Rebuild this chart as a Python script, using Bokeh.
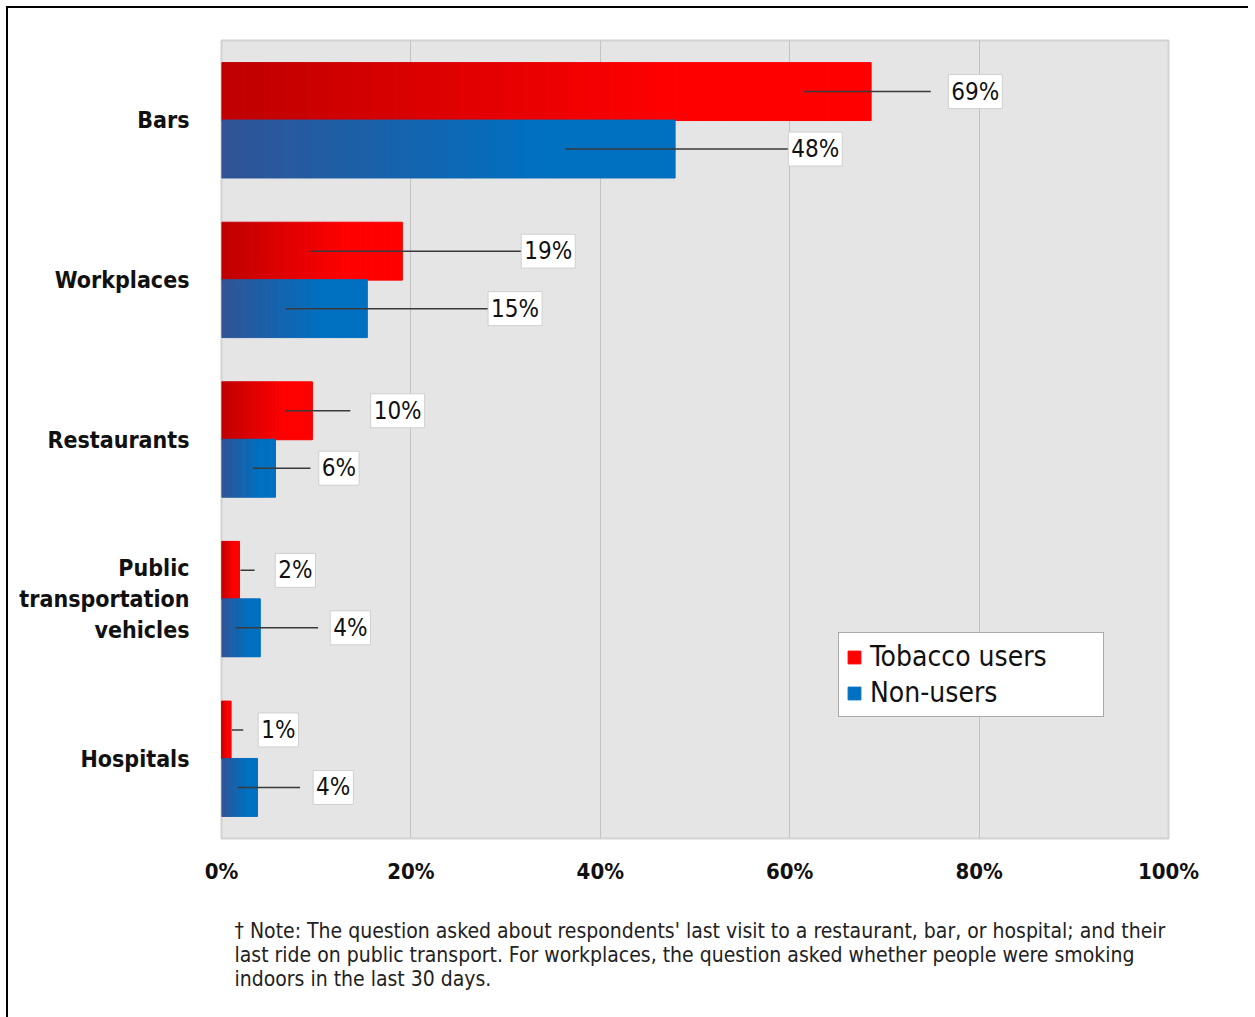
from bokeh.plotting import figure
from bokeh.models import Range1d, FixedTicker, PrintfTickFormatter, Label, Legend, LegendItem, Title
from bokeh.embed import file_html
from bokeh.resources import INLINE

# ---------------- data ----------------
categories = ["Bars", "Workplaces", "Restaurants", "Public\ntransportation\nvehicles", "Hospitals"]
tobacco_users = [68.6, 19.1, 9.6, 1.9, 1.0]
non_users = [47.9, 15.4, 5.7, 4.1, 3.8]
x_ticks = [0, 20, 40, 60, 80, 100]
series_names = ["Tobacco users", "Non-users"]
note_text = ("\u2020 Note: The question asked about respondents' last visit to a restaurant, bar, or hospital; and their\n"
             "last ride on public transport. For workplaces, the question asked whether people were smoking\n"
             "indoors in the last 30 days.")

# label layout (leader line start/end and label centre, in % units)
tob_line_start = [61.5, 9.4, 6.7, 2.0, 1.1]
tob_line_end = [74.9, 31.8, 13.6, 3.5, 2.3]
tob_label_x = [79.6, 34.5, 18.6, 7.8, 6.0]
non_line_start = [36.3, 6.8, 3.3, 1.5, 1.7]
non_line_end = [60.1, 28.4, 9.4, 10.2, 8.3]
non_label_x = [62.7, 31.0, 12.4, 13.6, 11.8]

FONT = "DejaVu Sans Condensed"
n_cat = len(categories)
centers = [n_cat - 0.5 - i for i in range(n_cat)]
OFF = 0.18
BAR_H = 0.363

p = figure(frame_width=947, frame_height=798,
           x_range=Range1d(0, 100), y_range=Range1d(0, n_cat),
           output_backend="svg", toolbar_location=None,
           min_border_left=213, min_border_right=80, min_border_top=32, min_border_bottom=176)
p.styles = {"margin-left": "6px", "margin-top": "6px",
            "border-left": "2px solid black", "border-top": "2px solid black"}
p.background_fill_color = "#e6e5e6"
p.border_fill_color = "white"
p.outline_line_color = "#d2d2d2"
p.outline_line_width = 2

p.xgrid.ticker = FixedTicker(ticks=x_ticks)
p.xgrid.grid_line_color = "#c2c2c2"
p.xgrid.grid_line_width = 1
p.ygrid.grid_line_color = None

p.xaxis.ticker = FixedTicker(ticks=x_ticks)
p.xaxis.formatter = PrintfTickFormatter(format="%d%%")
p.yaxis.ticker = FixedTicker(ticks=centers)
p.yaxis.major_label_overrides = {c: lab for c, lab in zip(centers, categories)}
for ax in (p.xaxis[0], p.yaxis[0]):
    ax.axis_line_color = None
    ax.major_tick_line_color = None
    ax.minor_tick_line_color = None
    ax.major_label_text_font = FONT
    ax.major_label_text_font_style = "bold"
    ax.major_label_text_color = "#111111"
p.xaxis.major_label_text_font_size = "22px"
p.xaxis.major_label_standoff = 14
p.yaxis.major_label_text_font_size = "23px"
p.yaxis.major_label_standoff = 26


def blend(c0, c1, t):
    return "#%02x%02x%02x" % tuple(int(round(a + (b - a) * t)) for a, b in zip(c0, c1))


N = 30


def gradient_bars(vals, offset, c0, c1):
    left, right, ys, cols = [], [], [], []
    for v, c in zip(vals, centers):
        for i in range(N):
            t = min(1.0, (i / (N - 1)) / 0.7)
            left.append(v * i / N)
            right.append(v * (i + 1) / N)
            ys.append(c + offset)
            cols.append(blend(c0, c1, t))
    return p.hbar(y=ys, left=left, right=right, height=BAR_H,
                  fill_color=cols, line_color=cols, line_width=1)


r_tob = gradient_bars(tobacco_users, OFF, (192, 0, 0), (255, 0, 0))
r_non = gradient_bars(non_users, -OFF, (48, 84, 150), (0, 112, 192))

# leader lines
p.segment(x0=tob_line_start, y0=[c + OFF for c in centers], x1=tob_line_end, y1=[c + OFF for c in centers],
          line_color="#3a3a3a", line_width=1.5)
p.segment(x0=non_line_start, y0=[c - OFF for c in centers], x1=non_line_end, y1=[c - OFF for c in centers],
          line_color="#3a3a3a", line_width=1.5)

# value labels
for vals, xs, off in ((tobacco_users, tob_label_x, OFF), (non_users, non_label_x, -OFF)):
    for v, x, c in zip(vals, xs, centers):
        p.add_layout(Label(x=x, y=c + off, text="%d%%" % round(v), text_align="center",
                           text_baseline="middle", text_font=FONT, text_font_size="24px",
                           text_color="#111111", background_fill_color="white",
                           border_line_color="#cfcfcf", border_line_width=1, padding=3))

legend = Legend(items=[LegendItem(label=series_names[0], renderers=[r_tob], index=N - 1),
                       LegendItem(label=series_names[1], renderers=[r_non], index=N - 1)],
                location=(617, 121), orientation="vertical",
                label_text_font=FONT, label_text_font_size="28px", label_text_color="#111111",
                glyph_width=16, glyph_height=16, label_standoff=8, padding=7, spacing=3,
                margin=0, border_line_color="#555555", border_line_width=1.5,
                background_fill_color="white", background_fill_alpha=1.0, label_width=226)
p.add_layout(legend, "center")

p.add_layout(Title(text=note_text, align="left", offset=13, standoff=60,
                   text_font=FONT, text_font_size="21px", text_font_style="normal",
                   text_color="#222222", text_line_height=1.0), "below")

open("out.html", "w").write(file_html(p, INLINE))
